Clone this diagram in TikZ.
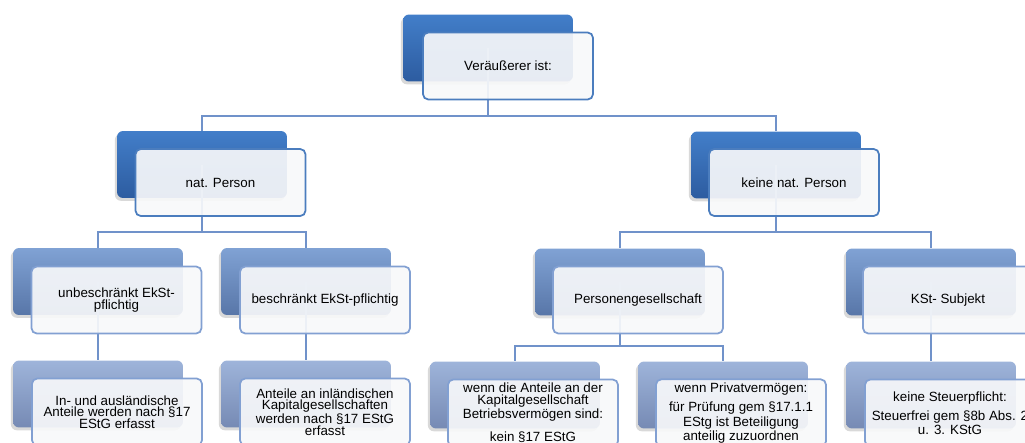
\documentclass[tikz,border=0pt]{standalone}
\usepackage{fontspec}
\setmainfont{Liberation Sans}
\usetikzlibrary{shadows}

\definecolor{topA}{RGB}{66,126,201}
\definecolor{botA}{RGB}{45,92,160}
\definecolor{topB}{RGB}{128,162,212}
\definecolor{botB}{RGB}{88,118,168}
\definecolor{topC}{RGB}{158,180,218}
\definecolor{botC}{RGB}{118,138,180}
\definecolor{rimA}{RGB}{75,125,190}
\definecolor{rimB}{RGB}{130,160,210}
\definecolor{paper}{RGB}{247,248,250}
\definecolor{wirecol}{RGB}{112,146,202}

\begin{document}
\begin{tikzpicture}[
    x=0.02cm, y=-0.02cm,
    font=\fontsize{7.6}{6.5}\selectfont,
    rear/.style 2 args={minimum width=3.4cm, minimum height=1.34cm,
      rounded corners=3.4pt, top color=#1, bottom color=#2, draw=none,
      drop shadow={shadow xshift=-1.2pt, shadow yshift=-1.6pt, opacity=0.3}},
    face/.style={minimum width=3.4cm, minimum height=1.34cm, inner sep=2pt,
      rounded corners=3pt, draw=#1, line width=1pt, fill=paper,
      fill opacity=0.92, text opacity=1, align=center},
    wire/.style={draw=wirecol, line width=1.1pt},
    ]
    \clip (0,0) rectangle (1025,443);

    % dark cards behind
    \node[rear={topA}{botA}] (vaR) at (488,48) {};
    \node[rear={topA}{botA}] (npR) at (202,164.5) {};
    \node[rear={topA}{botA}] (knR) at (776,165) {};
    \node[rear={topB}{botB}] (ubR) at (98,281.5) {};
    \node[rear={topB}{botB}] (bsR) at (306,281.5) {};
    \node[rear={topB}{botB}] (pgR) at (620,282) {};
    \node[rear={topB}{botB}] (ksR) at (931,282) {};
    \node[rear={topC}{botC}] (iaR) at (98,394) {};
    \node[rear={topC}{botC}] (aiR) at (306,394) {};
    \node[rear={topC}{botC}] (bvR) at (515,395) {};
    \node[rear={topC}{botC}] (pvR) at (723,395) {};
    \node[rear={topC}{botC}] (sfR) at (931,395) {};

    % tree lines
    \coordinate (j1) at (488,116);
    \coordinate (j2) at (202,232);
    \coordinate (j3) at (776,232);
    \coordinate (j4) at (620,346);
    \draw[wire] (vaR.center) -- (j1) -| (npR.north);
    \draw[wire] (j1) -| (knR.north);
    \draw[wire] (npR.center) -- (j2) -| (ubR.north);
    \draw[wire] (j2) -| (bsR.north);
    \draw[wire] (knR.center) -- (j3) -| (pgR.north);
    \draw[wire] (j3) -| (ksR.north);
    \draw[wire] (ubR.center) -- (iaR.north);
    \draw[wire] (bsR.center) -- (aiR.north);
    \draw[wire] (pgR.center) -- (j4) -| (bvR.north);
    \draw[wire] (j4) -| (pvR.north);
    \draw[wire] (ksR.center) -- (sfR.north);

    % light cards with text
    \node[face=rimA] (va) at (508,66) {Veräußerer ist:};
    \node[face=rimA] (np) at (220.5,182.5) {nat. Person};
    \node[face=rimA] (kn) at (794,182.5) {keine nat. Person};
    \node[face=rimB] (ub) at (116.5,300) {unbeschränkt EkSt-\\pflichtig};
    \node[face=rimB] (bs) at (325,300) {beschränkt EkSt-pflichtig};
    \node[face=rimB] (pg) at (638,300) {Personengesellschaft};
    \node[face=rimB] (ks) at (948,300) {KSt- Subjekt};
    \node[face=rimB] (ia) at (117,412) {In- und ausländische\\Anteile werden nach §17\\EStG erfasst};
    \node[face=rimB] (ai) at (325,412) {Anteile an inländischen\\Kapitalgesellschaften\\werden nach §17 EStG\\erfasst};
    \node[face=rimB] (bv) at (533,413) {wenn die Anteile an der\\Kapitalgesellschaft\\Betriebsvermögen sind:\\[5pt]kein §17 EStG};
    \node[face=rimB] (pv) at (741,413) {wenn Privatvermögen:\\[3pt]für Prüfung gem §17.1.1\\EStg ist Beteiligung\\anteilig zuzuordnen};
    \node[face=rimB] (sf) at (950,413) {keine Steuerpflicht:\\[3pt]Steuerfrei gem §8b Abs. 2\\u. 3. KStG};
  \end{tikzpicture}
\end{document}
